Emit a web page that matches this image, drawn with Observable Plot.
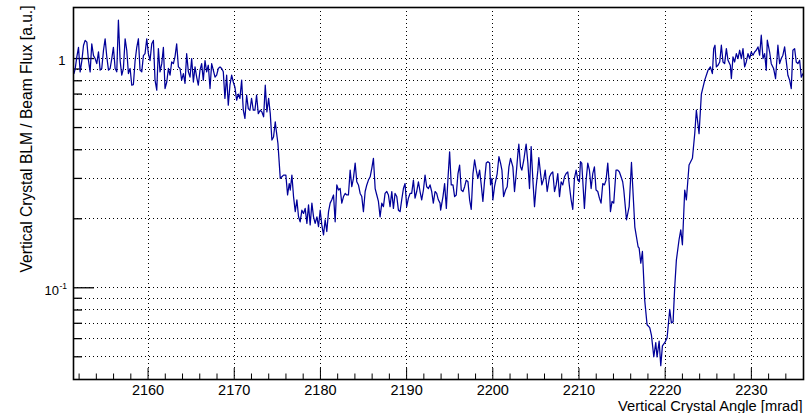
<!DOCTYPE html>
<html>
<head>
<meta charset="utf-8">
<script src="https://cdn.jsdelivr.net/npm/d3@7"></script>
<script src="https://cdn.jsdelivr.net/npm/@observablehq/plot@0.6"></script>
<style>
  html, body { margin: 0; padding: 0; background: #fff; }
  #chart svg { display: block; }
</style>
</head>
<body>
<div id="chart"></div>
<script>
// [angle (mrad), BLM / flux ratio], by region
const plateauLeft = [
  [2151.4,0.86],[2151.54,0.90],[2151.74,1.02],[2151.93,1.12],[2152.12,0.875],[2152.32,0.98],[2152.51,1.14],[2152.7,1.20],[2152.9,1.18],[2153.09,0.98],[2153.28,0.875],[2153.47,1.16],[2153.67,1.03],[2153.86,1.0],[2154.05,0.95],[2154.25,1.07],[2154.44,0.89],[2154.63,0.905],[2154.83,1.087],[2155.02,1.22],[2155.21,1.02],[2155.41,0.89],[2155.6,0.905],[2155.79,1.0],[2155.98,1.12],[2156.18,0.905],[2156.37,0.875],[2156.56,1.47],[2156.76,0.98],[2156.95,0.846],[2157.14,0.905],[2157.34,1.22],[2157.53,1.087],[2157.72,0.86],[2157.92,0.905],[2158.11,0.765],[2158.3,0.77],[2158.5,0.98],[2158.69,1.12],[2158.88,1.22],[2159.07,0.89],[2159.27,0.875],[2159.46,1.03],[2159.65,1.05],[2159.85,1.22],[2160.04,1.05],[2160.23,0.98],[2160.43,1.16],[2160.62,1.2],[2160.81,0.805],[2161.01,0.728],[2161.2,1.105],[2161.39,0.875],[2161.59,0.95],[2161.78,1.12],[2161.97,0.74],[2162.17,0.79],[2162.36,0.905],[2162.55,0.846],[2162.74,0.966],[2162.94,0.95],[2163.13,1.02],[2163.32,1.16],[2163.52,0.92],[2163.71,0.905],[2163.9,0.805],[2164.1,0.86],[2164.29,0.78],[2164.48,1.05],[2164.68,0.875],[2164.87,0.83],[2165.06,1.0],[2165.26,0.79],[2165.45,0.92],[2165.64,0.83],[2165.83,0.765],[2166.03,0.89],[2166.22,0.95],[2166.41,0.805],[2166.61,0.98],[2166.8,0.875],[2166.99,0.935],[2167.19,0.74],[2167.38,0.95],[2167.57,0.89],[2167.77,0.83],[2167.96,0.846],[2168.15,0.905],[2168.35,0.92],[2168.54,0.905],[2168.73,0.875],[2168.92,0.67],[2169.12,0.846],[2169.31,0.626],[2169.5,0.765],[2169.7,0.846],[2169.89,0.79],[2170.08,0.75],[2170.28,0.658],[2170.47,0.70],[2170.66,0.67],[2170.86,0.805],[2171.05,0.595],[2171.24,0.548],[2171.44,0.692],[2171.63,0.605],[2171.82,0.595],[2172.01,0.67],[2172.21,0.595],[2172.4,0.595],[2172.59,0.692],[2172.79,0.575]
];
const shoulder = [
  [2173.02,0.595],[2173.21,0.585],[2173.41,0.557],[2173.6,0.765],[2173.79,0.585],[2173.99,0.67],[2174.18,0.575],[2174.37,0.441],[2174.56,0.455],[2174.76,0.53],[2174.87,0.487],[2175.07,0.426],[2175.34,0.30],[2175.53,0.305],[2175.72,0.31],[2175.99,0.31],[2176.19,0.254],[2176.38,0.285],[2176.5,0.267],[2176.69,0.31],[2176.88,0.25],[2177.08,0.215],[2177.27,0.242],[2177.46,0.204],[2177.65,0.194],[2177.85,0.218],[2178.04,0.211],[2178.23,0.222],[2178.43,0.191],[2178.62,0.23],[2178.81,0.188],[2179.01,0.234],[2179.2,0.204],[2179.39,0.191],[2179.59,0.204],[2179.78,0.185],[2179.97,0.218],[2180.16,0.188],[2180.36,0.170],[2180.55,0.198],[2180.74,0.176],[2180.94,0.215],[2181.13,0.234],[2181.32,0.242],[2181.52,0.254],[2181.71,0.194],[2181.9,0.281],[2182.1,0.267],[2182.29,0.271],[2182.48,0.234],[2182.68,0.25],[2182.87,0.258],[2183.06,0.254],[2183.25,0.254],[2183.45,0.326],[2183.64,0.276],[2183.83,0.30],[2184.03,0.35],[2184.22,0.29],[2184.41,0.281],[2184.61,0.258],[2184.8,0.25],[2184.99,0.215],[2185.19,0.263],[2185.38,0.281],[2185.57,0.295],[2185.77,0.305],[2185.96,0.332],[2186.15,0.367],[2186.35,0.271],[2186.54,0.254],[2186.73,0.238],[2186.92,0.204],[2187.12,0.234],[2187.31,0.226],[2187.5,0.258],[2187.7,0.263],[2187.89,0.254],[2188.08,0.226],[2188.28,0.263],[2188.47,0.222],[2188.66,0.258],[2188.86,0.25],[2189.05,0.218],[2189.24,0.215],[2189.43,0.242],[2189.63,0.271],[2189.82,0.285],[2190.01,0.226],[2190.21,0.246],[2190.4,0.258],[2190.59,0.258],[2190.79,0.295],[2190.98,0.246],[2191.17,0.263],[2191.37,0.29],[2191.56,0.263],[2191.75,0.242],[2191.95,0.267],[2192.14,0.31],[2192.33,0.276],[2192.53,0.271],[2192.72,0.281],[2192.91,0.263],[2193.1,0.234],[2193.3,0.263],[2193.49,0.258],[2193.68,0.242],[2193.88,0.234]
];
const plateauMid = [
  [2193.95,0.218],[2194.22,0.25],[2194.41,0.285],[2194.61,0.222],[2194.8,0.30],[2194.99,0.392],[2195.18,0.281],[2195.38,0.281],[2195.57,0.25],[2195.76,0.254],[2195.96,0.315],[2196.15,0.343],[2196.34,0.267],[2196.54,0.263],[2196.73,0.276],[2196.92,0.295],[2197.12,0.29],[2197.31,0.242],[2197.5,0.22],[2197.7,0.315],[2197.89,0.361],[2198.08,0.326],[2198.27,0.30],[2198.47,0.326],[2198.66,0.281],[2198.85,0.238],[2199.05,0.295],[2199.24,0.35],[2199.43,0.355],[2199.63,0.35],[2199.74,0.281],[2199.9,0.30],[2200.01,0.242],[2200.2,0.276],[2200.51,0.315],[2200.71,0.373],[2200.9,0.35],[2201.06,0.326],[2201.25,0.25],[2201.48,0.267],[2201.67,0.276],[2201.87,0.337],[2202.06,0.367],[2202.33,0.337],[2202.52,0.263],[2202.72,0.315],[2202.91,0.385],[2203.02,0.423],[2203.22,0.337],[2203.37,0.326],[2203.6,0.361],[2203.76,0.399],[2203.87,0.423],[2204.07,0.35],[2204.26,0.271],[2204.45,0.413],[2204.65,0.295],[2204.84,0.226],[2205.03,0.276],[2205.23,0.326],[2205.34,0.37],[2205.54,0.315],[2205.69,0.281],[2205.92,0.30],[2206.08,0.326],[2206.31,0.263],[2206.58,0.305],[2206.77,0.315],[2206.96,0.32],[2207.16,0.263],[2207.35,0.281],[2207.54,0.315],[2207.74,0.25],[2207.93,0.29],[2208.12,0.281],[2208.32,0.305],[2208.51,0.315],[2208.7,0.32],[2208.9,0.276],[2209.09,0.242],[2209.28,0.22],[2209.47,0.30],[2209.67,0.326],[2209.86,0.295],[2210.05,0.29],[2210.17,0.355],[2210.32,0.35],[2210.48,0.276],[2210.63,0.222],[2210.83,0.295],[2211.02,0.35],[2211.21,0.326],[2211.41,0.271],[2211.6,0.315],[2211.79,0.337],[2211.98,0.267],[2212.18,0.263],[2212.37,0.246],[2212.56,0.234],[2212.76,0.285],[2212.95,0.281],[2213.14,0.295],[2213.34,0.35],[2213.53,0.276],[2213.65,0.215],[2213.84,0.238],[2214.03,0.234],[2214.3,0.326],[2214.5,0.326],[2214.69,0.32],[2214.88,0.305],[2215.07,0.29]
];
const channeling = [
  [2215.2,0.267],[2215.51,0.198],[2215.82,0.226],[2216.09,0.352],[2216.48,0.184],[2216.86,0.151],[2216.98,0.149],[2217.17,0.128],[2217.36,0.144],[2217.63,0.088],[2217.9,0.069],[2218.21,0.067],[2218.41,0.062],[2218.68,0.050],[2218.91,0.0576],[2219.06,0.0499],[2219.3,0.0585],[2219.49,0.0457],[2219.68,0.0558],[2219.95,0.0576],[2220.22,0.0604],[2220.53,0.0804],[2220.72,0.0703],[2220.92,0.071],[2221.11,0.101],[2221.3,0.132],[2221.61,0.162],[2221.81,0.179],[2222.0,0.154],[2222.27,0.267],[2222.46,0.242],[2222.77,0.343],[2223.16,0.367],[2223.43,0.47],[2223.62,0.595],[2223.93,0.47],[2224.2,0.70],[2224.59,0.805],[2224.97,0.889],[2225.24,0.92],[2225.48,0.86],[2225.63,1.105],[2225.78,1.143],[2225.94,0.92],[2226.13,0.935],[2226.33,0.966],[2226.52,1.143],[2226.71,0.966],[2226.9,0.95],[2227.1,1.105],[2227.29,0.983],[2227.56,0.935],[2227.68,0.818],[2227.87,1.017],[2228.06,0.966],[2228.26,1.05],[2228.45,1.0],[2228.64,1.087],[2228.84,1.0],[2229.03,1.105],[2229.22,0.92],[2229.41,0.966],[2229.61,1.05],[2229.8,1.0],[2229.99,1.068],[2230.19,1.034],[2230.38,1.068],[2230.57,1.087],[2230.77,1.124],[2230.96,1.034],[2231.15,1.264],[2231.35,1.0],[2231.54,1.05],[2231.73,0.889],[2231.85,1.202],[2232.12,1.068],[2232.31,0.95],[2232.58,0.905],[2232.81,0.818],[2233.08,1.143],[2233.28,0.95],[2233.47,1.0],[2233.66,1.034],[2233.86,1.124],[2234.24,0.846],[2234.44,0.805],[2234.63,0.74],[2234.82,1.087],[2235.02,1.105],[2235.21,0.966],[2235.4,0.95],[2235.6,0.983],[2235.79,0.83],[2236.0,0.86]
];

// axis ticks and labels
const xMajorTicks = [2160, 2170, 2180, 2190, 2200, 2210, 2220, 2230];
const xMinorTicks = [2152,2154,2156,2158,2162,2164,2166,2168,2172,2174,2176,2178,2182,2184,2186,2188,2192,2194,2196,2198,2202,2204,2206,2208,2212,2214,2216,2218,2222,2224,2226,2228,2232,2234];
const yMajorTicks = [1, 0.1];
const yMinorTicks = [0.9, 0.8, 0.7, 0.6, 0.5, 0.4, 0.3, 0.2, 0.09, 0.08, 0.07, 0.06, 0.05];
const yLabelBase = ["1", "10"];
const yLabelExp = ["", "-1"];
const xTitle = "Vertical Crystal Angle [mrad]";
const yTitle = "Vertical Crystal BLM / Beam Flux [a.u.]";

const data = [...plateauLeft, ...shoulder, ...plateauMid, ...channeling]
  .map(([angle, ratio]) => ({angle, ratio}));

const W = 811, H = 413, mL = 73, mR = 8, mT = 7, mB = 34;
const frameW = W - mL - mR, frameH = H - mT - mB;
const font = "'Liberation Sans', Arial, Helvetica, sans-serif";
const dots = "1,3";

const plainIdx = yLabelExp.map((e, i) => e === "" ? i : -1).filter(i => i >= 0);
const powIdx = yLabelExp.map((e, i) => e !== "" ? i : -1).filter(i => i >= 0);

const chart = Plot.plot({
  width: W, height: H,
  marginLeft: mL, marginRight: mR, marginTop: mT, marginBottom: mB,
  style: {fontFamily: font, fontSize: "14.5px", color: "#000", background: "#fff"},
  x: {domain: [2151.35, 2236.05], ticks: xMajorTicks, tickSize: 0, tickPadding: 5, tickFormat: d => String(d), label: null},
  y: {type: "log", domain: [0.0398, 1.67], axis: null},
  marks: [
    // dotted grid
    Plot.ruleX(xMajorTicks, {x: d => d, stroke: "#000", strokeWidth: 1, strokeDasharray: dots, shapeRendering: "crispEdges"}),
    Plot.ruleY([...yMajorTicks, ...yMinorTicks], {y: d => d, stroke: "#000", strokeWidth: 1, strokeDasharray: dots, shapeRendering: "crispEdges"}),
    // inward ticks
    Plot.ruleX(xMajorTicks, {x: d => d, stroke: "#000", strokeWidth: 1, insetTop: frameH - 11}),
    Plot.ruleX(xMinorTicks, {x: d => d, stroke: "#000", strokeWidth: 1, insetTop: frameH - 5.5}),
    Plot.ruleY(yMajorTicks, {y: d => d, stroke: "#000", strokeWidth: 1.3, insetRight: frameW - 21}),
    Plot.ruleY(yMinorTicks, {y: d => d, stroke: "#000", strokeWidth: 1.3, insetRight: frameW - 9}),
    // data
    Plot.line(data, {x: "angle", y: "ratio", stroke: "#000099", strokeWidth: 1.25}),
    Plot.frame({stroke: "#000", strokeWidth: 1.6}),
    // y tick labels
    Plot.text(plainIdx, {y: i => yMajorTicks[i], text: i => yLabelBase[i], frameAnchor: "left", textAnchor: "end", dx: -8, dy: 2.5, fontSize: 13}),
    Plot.text(powIdx, {y: i => yMajorTicks[i], text: i => yLabelBase[i], frameAnchor: "left", textAnchor: "end", dx: -14.5, dy: 3, fontSize: 13}),
    Plot.text(powIdx, {y: i => yMajorTicks[i], text: i => yLabelExp[i], frameAnchor: "left", textAnchor: "start", dx: -14, dy: -2, fontSize: 8.5}),
    // axis titles
    Plot.text([xTitle], {frameAnchor: "bottom-right", textAnchor: "end", lineAnchor: "bottom", dx: -1, dy: 31, fontSize: 14.7}),
    Plot.text([yTitle], {frameAnchor: "top-left", rotate: -90, textAnchor: "end", lineAnchor: "bottom", dx: -41.3, dy: -2, fontSize: 15.6})
  ]
});
document.getElementById("chart").appendChild(chart);
</script>
</body>
</html>
